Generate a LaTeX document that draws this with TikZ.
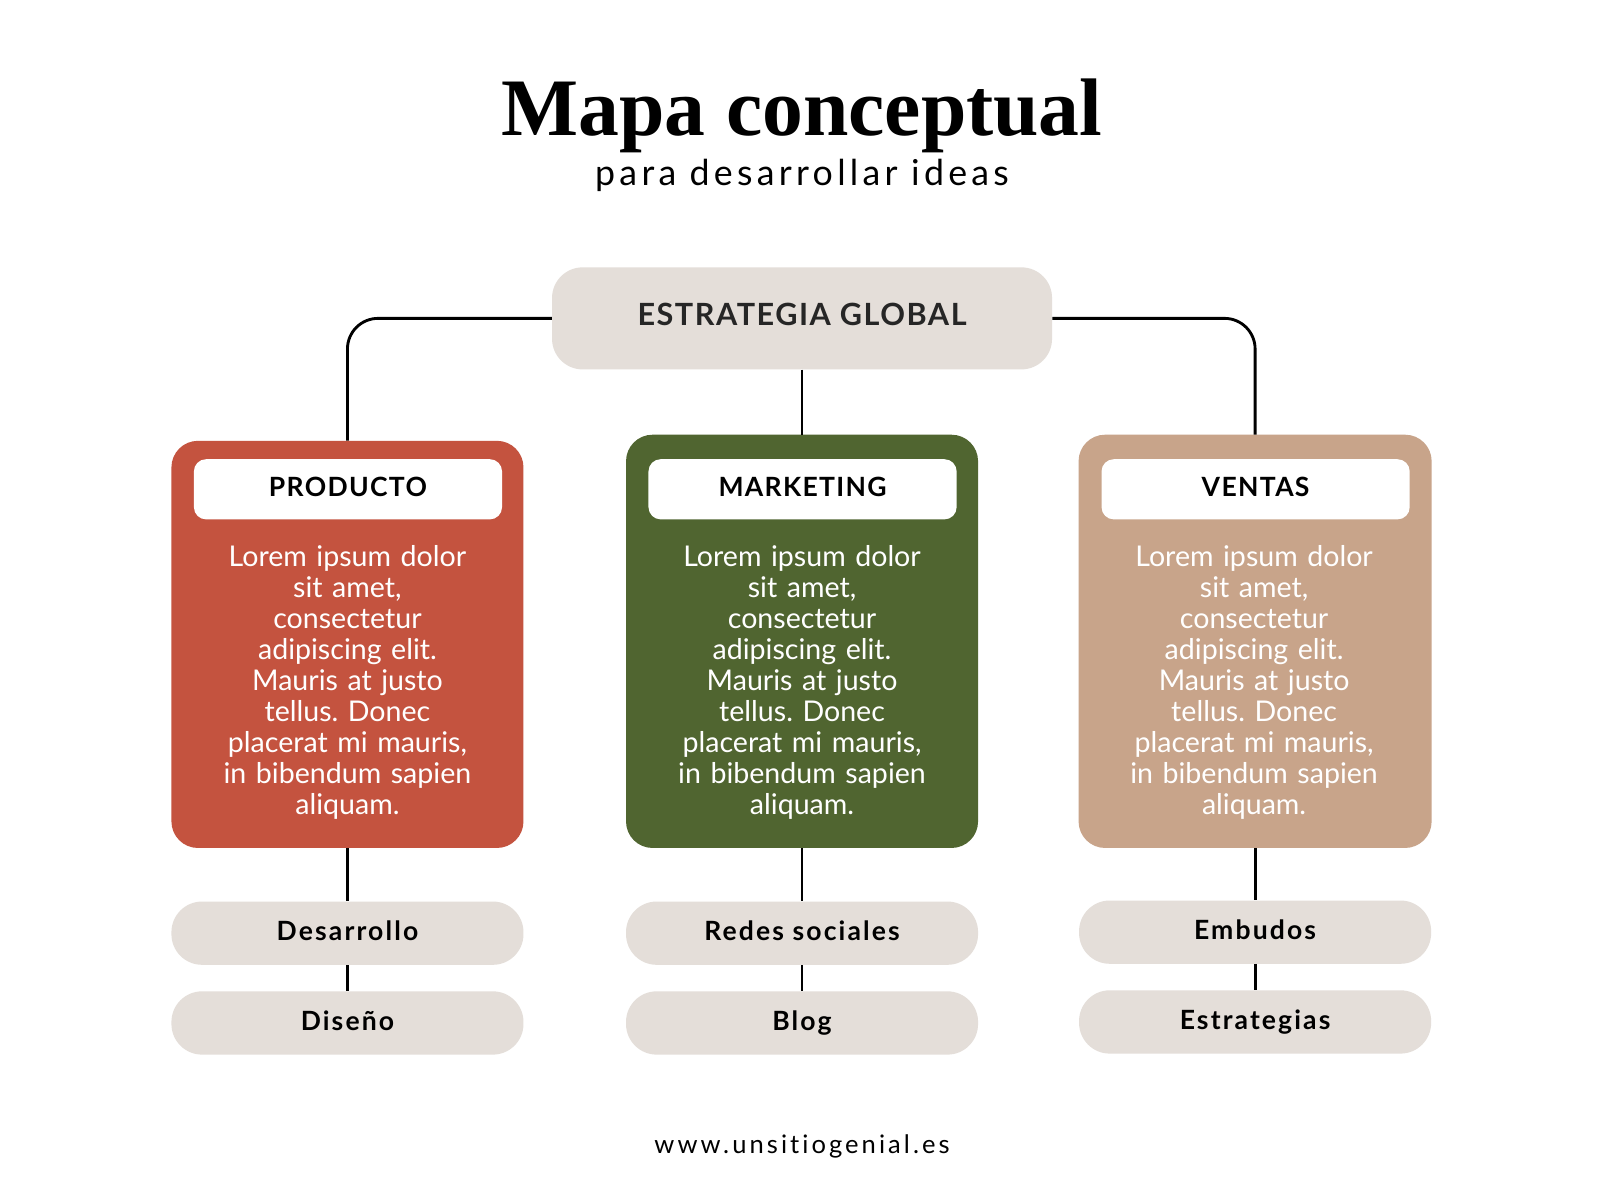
\documentclass[tikz,border=0pt]{standalone}
\usepackage{fontspec}
\setmainfont{Lato}
\newfontfamily\titlefont{Liberation Serif}
\newfontfamily\subfont[LetterSpace=12,Ligatures=NoCommon]{Lato}
\newfontfamily\boldsp[LetterSpace=5]{Lato}
\newfontfamily\pillsp[LetterSpace=8]{Lato}
\definecolor{cred}{HTML}{C4533F}
\definecolor{cgreen}{HTML}{506530}
\definecolor{ctan}{HTML}{C8A48A}
\definecolor{clight}{HTML}{E4DED9}
\frenchspacing
\begin{document}
\begin{tikzpicture}[x=1pt,y=-1pt,
  conn/.style={line width=2.8pt, black},
  bigbox/.style={minimum width=345pt, minimum height=405pt, rounded corners=26pt, inner sep=0pt},
  headbox/.style={fill=white, minimum width=302pt, minimum height=59pt, rounded corners=12pt, inner sep=0pt,
     font=\boldsp\bfseries\fontsize{26}{30}\selectfont, text height=18.6pt, text depth=4pt},
  pill/.style={fill=clight, minimum width=345pt, minimum height=62pt, rounded corners=30pt, inner sep=0pt,
     font=\pillsp\bfseries\fontsize{26}{30}\selectfont, text height=18.6pt, text depth=4pt},
  body/.style={text=white, align=center, text width=300pt, inner sep=0pt, font=\fontsize{28}{30.4}\selectfont}
]
\useasboundingbox[fill=white] (0,0) rectangle (1568,1176);

% title
\node[anchor=base, inner sep=0pt, font=\titlefont\bfseries\fontsize{80}{90}\selectfont] (title) at (786,133) {Mapa conceptual};
\node[anchor=base, inner sep=0pt, font=\subfont\fontsize{35}{40}\selectfont] (sub) at (786,182) {para desarrollar ideas};

% global
\node[fill=clight, minimum width=490pt, minimum height=100pt, rounded corners=30pt, inner sep=0pt,
      font=\boldsp\bfseries\fontsize{30}{34}\selectfont, text height=21.5pt, text depth=8.5pt, text=black!85] (glob) at (786,312) {ESTRATEGIA GLOBAL};

% big boxes
\node[bigbox, fill=cred, minimum height=399pt] (prod) at (340.5,631.5) {};
\node[bigbox, fill=cgreen] (mark) at (786,628.5) {};
\node[bigbox, fill=ctan, minimum width=346pt] (vent) at (1230,628.5) {};

% headers
\node[headbox] (hprod) at (341,479.5) {PRODUCTO};
\node[headbox] (hmark) at (786.5,479.5) {MARKETING};
\node[headbox] (hvent) at (1230.5,479.5) {VENTAS};

% body texts
\foreach \n/\x in {bprod/340.5, bmark/786, bvent/1229} {
  \node[body, anchor=north] (\n) at (\x,534) {Lorem ipsum dolor\\ sit amet,\\ consectetur\\ adipiscing elit.\\ Mauris at justo\\ tellus. Donec\\ placerat mi mauris,\\ in bibendum sapien\\ aliquam.};
}

% pills
\node[pill] (p1a) at (340.5,914.5) {Desarrollo};
\node[pill] (p1b) at (340.5,1002.5) {Diseño};
\node[pill] (p2a) at (786,914.5) {Redes sociales};
\node[pill] (p2b) at (786,1002.5) {Blog};
\node[pill] (p3a) at (1230,913.5) {Embudos};
\node[pill] (p3b) at (1230,1001.5) {Estrategias};

% connectors
\draw[conn, rounded corners=30pt] (glob.west) -| (prod.north);
\draw[conn, rounded corners=30pt] (glob.east) -| (vent.north);
\draw[conn] (glob.south) -- (mark.north);
\draw[conn] (prod.south) -- (p1a.north);
\draw[conn] (p1a.south) -- (p1b.north);
\draw[conn] (mark.south) -- (p2a.north);
\draw[conn] (p2a.south) -- (p2b.north);
\draw[conn] (vent.south) -- (p3a.north);
\draw[conn] (p3a.south) -- (p3b.north);

% url
\node[anchor=base, inner sep=0pt, font=\subfont\fontsize{25}{30}\selectfont] (url) at (786,1130) {www.unsitiogenial.es};
\end{tikzpicture}
\end{document}
